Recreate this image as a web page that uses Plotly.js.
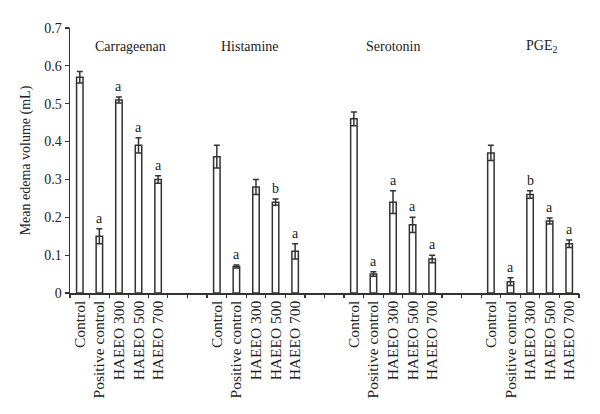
<!DOCTYPE html>
<html><head><meta charset="utf-8">
<script src="https://cdn.plot.ly/plotly-3.0.1.min.js"></script>
<style>html,body{margin:0;padding:0;background:#fff}#chart{width:600px;height:414px}</style>
</head><body><div id="chart"></div>
<script>
const groups = ["Carrageenan", "Histamine", "Serotonin", "PGE<sub>2</sub>"];
const treatments = ["Control", "Positive control", "HAEEO 300", "HAEEO 500", "HAEEO 700"];
const carrageenanMean = [0.57, 0.15, 0.51, 0.39, 0.30];
const carrageenanErr  = [0.015, 0.02, 0.008, 0.02, 0.01];
const carrageenanSig  = ["", "a", "a", "a", "a"];
const histamineMean = [0.36, 0.07, 0.28, 0.24, 0.11];
const histamineErr  = [0.03, 0.004, 0.02, 0.008, 0.02];
const histamineSig  = ["", "a", "", "b", "a"];
const serotoninMean = [0.46, 0.05, 0.24, 0.18, 0.09];
const serotoninErr  = [0.018, 0.006, 0.03, 0.02, 0.01];
const serotoninSig  = ["", "a", "a", "a", "a"];
const pge2Mean = [0.37, 0.03, 0.26, 0.19, 0.13];
const pge2Err  = [0.02, 0.01, 0.01, 0.008, 0.01];
const pge2Sig  = ["", "a", "b", "a", "a"];

const means = [carrageenanMean, histamineMean, serotoninMean, pge2Mean];
const errs = [carrageenanErr, histamineErr, serotoninErr, pge2Err];
const sigs = [carrageenanSig, histamineSig, serotoninSig, pge2Sig];

const step = treatments.length + 2;
const nSlots = groups.length * step - 2;
const titleShift = [0.6, -0.3, 0, 0.6];
const xs = [], ys = [], es = [], labs = [], anns = [];
const font = "Liberation Serif, Times New Roman, serif";
groups.forEach((g, gi) => {
  treatments.forEach((t, ti) => {
    const x = gi * step + ti;
    xs.push(x); ys.push(means[gi][ti]); es.push(errs[gi][ti]); labs.push(t);
    if (sigs[gi][ti]) {
      anns.push({x: x, y: means[gi][ti] + errs[gi][ti], text: sigs[gi][ti], showarrow: false,
        yanchor: "bottom", yshift: 1, font: {family: font, size: 14, color: "#222"}});
    }
  });
  anns.push({x: gi * step + (treatments.length - 1) / 2 + titleShift[gi], y: 0.65, text: g, showarrow: false,
    font: {family: font, size: 14, color: "#222"}});
});
const boundaries = [];
for (let i = 0; i <= nSlots; i++) boundaries.push(i - 0.5);

const trace = {
  type: "bar", x: xs, y: ys, width: 0.33,
  marker: {color: "#fff", line: {color: "#333", width: 1.5}},
  error_y: {type: "data", array: es, visible: true, color: "#333", thickness: 1.5, width: 3},
  hoverinfo: "none"
};
const dummy = {type: "scatter", x: [-0.5, nSlots - 0.5], y: [0, 0], xaxis: "x2", mode: "none", hoverinfo: "none"};

const layout = {
  width: 600, height: 414,
  margin: {l: 70, r: 21, t: 28, b: 121},
  paper_bgcolor: "#fff", plot_bgcolor: "#fff",
  showlegend: false,
  font: {family: font, size: 13, color: "#222"},
  xaxis: {range: [-0.5, nSlots - 0.5], tickmode: "array", tickvals: xs, ticktext: labs,
    tickangle: -90, ticks: "", showgrid: false, zeroline: false, showline: true,
    linecolor: "#333", linewidth: 1.5, tickfont: {family: font, size: 15.5, color: "#222"}},
  xaxis2: {overlaying: "x", range: [-0.5, nSlots - 0.5], tickmode: "array", tickvals: boundaries,
    ticks: "outside", ticklen: 4, tickcolor: "#333", tickwidth: 1.2, showticklabels: false,
    showgrid: false, zeroline: false, showline: false, side: "bottom", anchor: "y"},
  yaxis: {range: [0, 0.7], dtick: 0.1, ticks: "outside", ticklen: 4, tickcolor: "#333", tickwidth: 1.2,
    showgrid: false, zeroline: false, showline: true, linecolor: "#333", linewidth: 1.5,
    tickfont: {family: font, size: 14, color: "#222"},
    title: {text: "Mean edema volume (mL)", font: {family: font, size: 14, color: "#222"}, standoff: 10}},
  annotations: anns
};
Plotly.newPlot("chart", [trace, dummy], layout, {staticPlot: true});
</script></body></html>
